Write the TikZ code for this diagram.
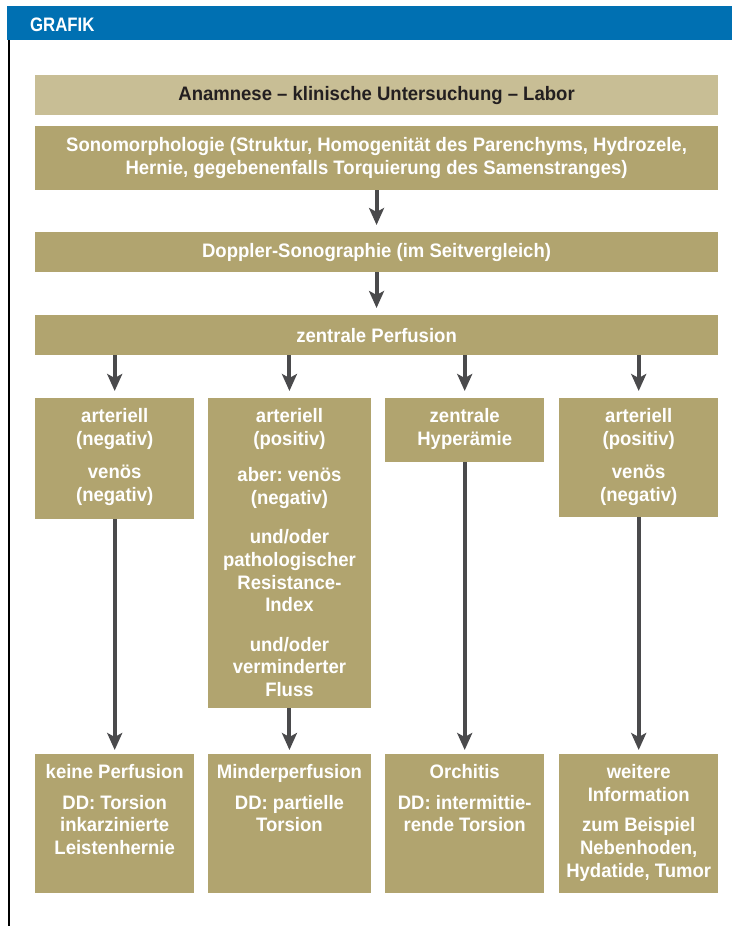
\documentclass[tikz,border=0pt]{standalone}
\usepackage{fontspec}
\setmainfont{Liberation Sans}[FakeStretch=0.95]
\newfontfamily\grafikfont{Liberation Sans}[FakeStretch=0.86]
\usetikzlibrary{arrows.meta}
\definecolor{grafikblue}{RGB}{0,112,178}
\definecolor{grafiktan}{RGB}{177,164,111}
\definecolor{grafiklight}{RGB}{200,190,149}
\definecolor{grafikink}{RGB}{35,31,32}
\definecolor{grafikarrow}{RGB}{74,74,76}
\newcommand\flowfont{\fontsize{19.5}{22.8}\selectfont\bfseries\frenchspacing}
\newcommand\colbody[3]{\parbox[t][#1][t]{#2}{\centering\rule{0pt}{24pt}#3}}
\tikzset{
  flowbar/.style={fill=grafiktan, text=white, inner sep=0pt, align=center,
    minimum width=682.7pt, anchor=north west, font=\flowfont},
  flowcol/.style={fill=grafiktan, text=white, inner sep=0pt,
    anchor=north west, font=\flowfont},
  flowarrow/.style={-{Stealth[length=17pt,width=15pt,inset=4pt]},
    line width=4pt, grafikarrow},
}

\begin{document}
\begin{tikzpicture}[x=1pt,y=-1pt]
  \useasboundingbox (0,0) rectangle (732,926);
  % header
  \fill[grafikblue] (7,6) rectangle (732,40);
  \draw[black, line width=2pt] (8.5,40) -- (8.5,926);
  \node[anchor=base west, inner sep=0pt, text=white,
    font=\grafikfont\fontsize{19.5}{20}\selectfont\bfseries] (grafik) at (30,31) {GRAFIK};
  % main column
  \node[flowbar, fill=grafiklight, text=grafikink, minimum height=39.7pt] (anam) at (35,75)
    {Anamnese -- klinische Untersuchung -- Labor};
  \node[flowbar, minimum height=63.7pt] (sono) at (35,126)
    {Sonomorphologie (Struktur, Homogenität des Parenchyms, Hydrozele,\\
     Hernie, gegebenenfalls Torquierung des Samenstranges)};
  \node[flowbar, minimum height=39.7pt] (doppler) at (35,232)
    {Doppler-Sonographie (im Seitvergleich)};
  \node[flowbar, minimum height=39.7pt] (perf) at (35,315)
    {zentrale Perfusion};
  % findings
  \node[flowcol] (a1) at (35,398)
    {\colbody{121pt}{159pt}{arteriell\\(negativ)\\[10.5pt]venös\\(negativ)}};
  \node[flowcol] (a2) at (208,398)
    {\colbody{310pt}{162.5pt}{arteriell\\(positiv)\\[13.5pt]aber: venös\\(negativ)\\[16.5pt]
     und/oder\\pathologischer\\Resistance-\\Index\\[16.5pt]und/oder\\verminderter\\Fluss}};
  \node[flowcol] (a3) at (385,398)
    {\colbody{64pt}{159pt}{zentrale\\Hyperämie}};
  \node[flowcol] (a4) at (559,398)
    {\colbody{119pt}{159pt}{arteriell\\(positiv)\\[10.5pt]venös\\(negativ)}};
  % diagnoses
  \node[flowcol] (b1) at (35,754)
    {\colbody{139pt}{159pt}{keine Perfusion\\[8pt]DD: Torsion\\inkarzinierte\\Leistenhernie}};
  \node[flowcol] (b2) at (208,754)
    {\colbody{139pt}{162.5pt}{Minderperfusion\\[8pt]DD: partielle\\Torsion}};
  \node[flowcol] (b3) at (385,754)
    {\colbody{139pt}{159pt}{Orchitis\\[8pt]DD: intermittie-\\rende Torsion}};
  \node[flowcol] (b4) at (559,754)
    {\colbody{139pt}{159pt}{weitere\\Information\\[8pt]zum Beispiel\\Nebenhoden,\\Hydatide, Tumor}};
  % arrows
  \draw[flowarrow, shorten >=7pt] (sono.south) -- (doppler.north);
  \draw[flowarrow, shorten >=7pt] (doppler.south) -- (perf.north);
  \foreach \i in {1,...,4} {
    \draw[flowarrow, shorten >=7pt] (perf.south -| a\i.north) -- (a\i.north);
    \draw[flowarrow, shorten >=4pt] (a\i.south) -- (b\i.north);
  }
\end{tikzpicture}
\end{document}
